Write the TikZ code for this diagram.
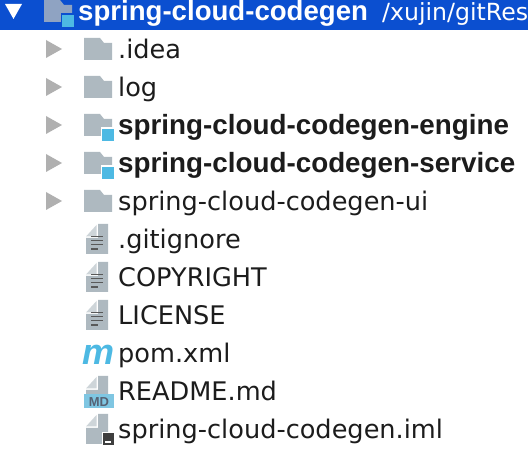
\documentclass[tikz,border=0pt]{standalone}
\usepackage{fontspec}
\setmainfont{DejaVu Sans}
\newfontfamily\heavyfont{Liberation Sans}
\usepackage{tikz}
\definecolor{headerblue}{HTML}{0B4FD0}
\definecolor{headerfolder}{HTML}{8FA3C2}
\definecolor{foldergray}{HTML}{AEB9C0}
\definecolor{arrowgray}{HTML}{B0B0B0}
\definecolor{badgeblue}{HTML}{4DB9E3}
\definecolor{mdblue}{HTML}{7FC6E2}
\definecolor{labelblack}{HTML}{1C1C1C}
\tikzstyle{rowlabel}=[anchor=base west,inner sep=0pt,text=labelblack,font=\fontsize{25.6}{30}\selectfont]
\tikzstyle{boldlabel}=[rowlabel,font=\heavyfont\fontsize{27.8}{30}\selectfont\bfseries]
\tikzstyle{headerlabel}=[boldlabel,text=white,font=\heavyfont\fontsize{27.6}{30}\selectfont\bfseries]
\tikzset{
  foldershape/.pic={\fill[pic actions] (0,0) -- (16,0) -- (20,5) -- (28,5) -- (28,22) -- (0,22) -- cycle;},
  treearrow/.pic={\fill[arrowgray] (0,0) -- (16,9) -- (0,18) -- cycle;},
  badge/.pic={\filldraw[fill=badgeblue,line width=1.5pt,pic actions] (-.75,-.75) rectangle (12.75,13.25);},
  filebody/.pic={
    \fill[foldergray] (12,0) -- (22,0) -- (22,30) -- (0,30) -- (0,14) -- (12,14) -- cycle;
    \fill[foldergray!60] (0,12.5) -- (10.5,12.5) -- (10.5,1) -- cycle;},
  filelines/.pic={
    \draw[black!65,line width=1.5pt] (5,12.5) -- (17,12.5) (5,16.5) -- (17,16.5) (5,20.5) -- (17,20.5) (5,25) -- (12,25);}
}
\begin{document}
\begin{tikzpicture}[x=1pt,y=-1pt]
    \useasboundingbox (0,0) rectangle (528,454);
    \fill[white] (0,0) rectangle (528,454);
    % first line: selected project root
    \fill[headerblue] (0,0) rectangle (528,30);
    \fill[white] (5,4) -- (22,4) -- (13.5,19) -- cycle;
    \pic[fill=headerfolder] at (44,0) {foldershape};
    \pic[draw=headerblue] at (62,15) {badge};
    \node (root) [headerlabel] at (78,20.5) {spring-cloud-codegen};
    \node (rootpath) [rowlabel,text=white,font=\fontsize{23.6}{30}\selectfont] at (382,20.5) {/xujin/gitRes};
    % folders
    \pic at (46,40) {treearrow};
    \pic[fill=foldergray] at (84,38) {foldershape};
    \node (idea) [rowlabel] at (118,59) {.idea};
    \pic at (46,78) {treearrow};
    \pic[fill=foldergray] at (84,76) {foldershape};
    \node (log) [rowlabel] at (118,97) {log};
    \pic at (46,116) {treearrow};
    \pic[fill=foldergray] at (84,114) {foldershape};
    \pic[draw=white] at (102,129) {badge};
    \node (engine) [boldlabel] at (118,135) {spring-cloud-codegen-engine};
    \pic at (46,154) {treearrow};
    \pic[fill=foldergray] at (84,152) {foldershape};
    \pic[draw=white] at (102,167) {badge};
    \node (service) [boldlabel] at (118,173) {spring-cloud-codegen-service};
    \pic at (46,192) {treearrow};
    \pic[fill=foldergray] at (84,190) {foldershape};
    \node (ui) [rowlabel] at (118,211) {spring-cloud-codegen-ui};
    % plain files
    \pic at (86,224) {filebody};
    \pic at (86,224) {filelines};
    \node (gitignore) [rowlabel] at (118,249) {.gitignore};
    \pic at (86,262) {filebody};
    \pic at (86,262) {filelines};
    \node (copyright) [rowlabel] at (118,287) {COPYRIGHT};
    \pic at (86,300) {filebody};
    \pic at (86,300) {filelines};
    \node (license) [rowlabel] at (118,325) {LICENSE};
    % pom, readme and module file
    \node (mvn) [anchor=base,inner sep=0pt,text=badgeblue,font=\heavyfont\fontsize{36}{36}\selectfont\bfseries\itshape] at (98.5,365) {m};
    \node (pom) [rowlabel] at (118,363) {pom.xml};
    \pic at (86,376) {filebody};
    \fill[mdblue] (84,394) rectangle (114,408);
    \node (mdtag) [anchor=base,inner sep=0pt,text=headerfolder!60!black,font=\heavyfont\fontsize{13}{13}\selectfont\bfseries] at (99,406.5) {MD};
    \node (readme) [rowlabel] at (118,401) {README.md};
    \pic at (86,414) {filebody};
    \fill[labelblack!85,draw=white,line width=1pt] (102,433) rectangle (114,446);
    \fill[white] (105,441.5) rectangle (111,443.5);
    \node (iml) [rowlabel] at (118,439) {spring-cloud-codegen.iml};
  \end{tikzpicture}
\end{document}
